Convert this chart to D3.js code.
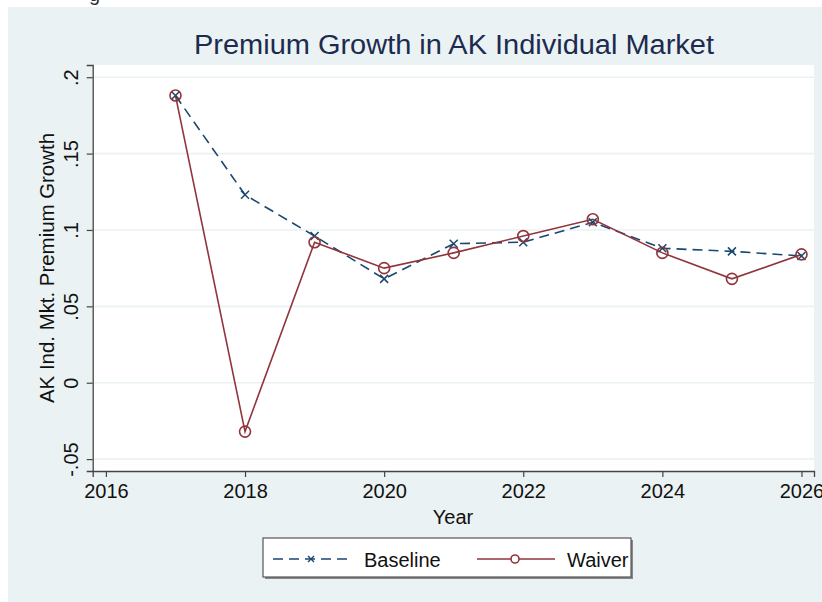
<!DOCTYPE html>
<html>
<head>
<meta charset="utf-8">
<script src="https://cdn.jsdelivr.net/npm/d3@7"></script>
<style>
  body { margin: 0; background: #ffffff; }
  text { font-family: "Liberation Sans", Arial, Helvetica, sans-serif; }
</style>
</head>
<body>
<div id="chart"></div>
<script>
// data
const years = [2017, 2018, 2019, 2020, 2021, 2022, 2023, 2024, 2025, 2026];
const baseline = [0.188, 0.123, 0.096, 0.068, 0.091, 0.092, 0.105, 0.088, 0.086, 0.083];
const waiver = [0.188, -0.032, 0.092, 0.075, 0.085, 0.096, 0.107, 0.085, 0.068, 0.084];
const xTicks = [2016, 2018, 2020, 2022, 2024, 2026];
const yTicks = [-0.05, 0, 0.05, 0.1, 0.15, 0.2];
const yTickLabels = ["-.05", "0", ".05", ".1", ".15", ".2"];

const width = 822, height = 602;
const plot = {left: 92.7, right: 814, top: 65, bottom: 471};

const navy = "#1a476f";
const maroon = "#90353b";
const bg = "#eaf2f3";

const svg = d3.select("#chart")
    .append("svg")
    .attr("width", width)
    .attr("height", height);

// outer panel
svg.append("rect")
    .attr("x", 8).attr("y", 7)
    .attr("width", width - 8).attr("height", height - 7)
    .attr("fill", bg);

// cut off glyph from text above the picture
svg.append("text")
    .attr("x", 89).attr("y", 0.5)
    .style("font-size", "20px")
    .attr("fill", "#333")
    .text("g");

// scales
const x = d3.scaleLinear()
    .domain([2015.81, 2026.18])
    .range([plot.left, plot.right]);

const y = d3.scaleLinear()
    .domain([-0.0578, 0.208])
    .range([plot.bottom, plot.top]);

// plot region
svg.append("rect")
    .attr("x", plot.left).attr("y", plot.top)
    .attr("width", plot.right - plot.left)
    .attr("height", plot.bottom - plot.top)
    .attr("fill", "#ffffff");

// gridlines
svg.append("g")
    .selectAll("line")
    .data(yTicks)
    .enter().append("line")
    .attr("x1", plot.left).attr("x2", plot.right)
    .attr("y1", d => y(d)).attr("y2", d => y(d))
    .attr("stroke", bg)
    .attr("stroke-width", 1.6);

// title
svg.append("text")
    .attr("x", 454).attr("y", 54)
    .attr("text-anchor", "middle")
    .attr("textLength", 520)
    .attr("lengthAdjust", "spacingAndGlyphs")
    .style("font-size", "27px")
    .attr("fill", "#1c2b4f")
    .text("Premium Growth in AK Individual Market");

// x axis
const xAxis = svg.append("g")
    .attr("transform", "translate(0," + plot.bottom + ")")
    .call(d3.axisBottom(x).tickValues(xTicks).tickFormat(d3.format("d")).tickSizeOuter(0).tickSize(6).tickPadding(7));
xAxis.select(".domain").attr("stroke", "#444").attr("stroke-width", 1.3);
xAxis.selectAll(".tick line").attr("stroke", "#444").attr("stroke-width", 1.2);
xAxis.selectAll(".tick text")
    .style("font-size", "20px")
    .attr("fill", "#111");

// y axis
const yAxis = svg.append("g")
    .attr("transform", "translate(" + plot.left + ",0)")
    .call(d3.axisLeft(y).tickValues(yTicks).tickFormat((d, i) => yTickLabels[i]).tickSizeOuter(0).tickSize(6));
yAxis.select(".domain").attr("stroke", "#444").attr("stroke-width", 1.3);
yAxis.selectAll(".tick line").attr("stroke", "#444").attr("stroke-width", 1.2);
yAxis.selectAll(".tick text")
    .attr("x", 0).attr("y", 0).attr("dy", null)
    .attr("transform", "translate(-15,0) rotate(-90)")
    .attr("text-anchor", "middle")
    .style("font-size", "20px")
    .attr("fill", "#111");

// axis titles
svg.append("text")
    .attr("x", 453).attr("y", 524)
    .attr("text-anchor", "middle")
    .style("font-size", "20px")
    .attr("fill", "#111")
    .text("Year");

svg.append("text")
    .attr("transform", "translate(54," + 268 + ") rotate(-90)")
    .attr("text-anchor", "middle")
    .attr("textLength", 270)
    .attr("lengthAdjust", "spacingAndGlyphs")
    .style("font-size", "20px")
    .attr("fill", "#111")
    .text("AK Ind. Mkt. Premium Growth");

// lines
const line = d3.line()
    .x((d, i) => x(years[i]))
    .y(d => y(d));

svg.append("path")
    .datum(baseline)
    .attr("d", line)
    .attr("fill", "none")
    .attr("stroke", navy)
    .attr("stroke-width", 1.6)
    .attr("stroke-dasharray", "10,6");

svg.append("path")
    .datum(waiver)
    .attr("d", line)
    .attr("fill", "none")
    .attr("stroke", maroon)
    .attr("stroke-width", 1.6);

// markers
const xMark = (s) => "M" + (-s) + "," + (-s) + "L" + s + "," + s + "M" + (-s) + "," + s + "L" + s + "," + (-s);

svg.append("g")
    .selectAll("path")
    .data(baseline)
    .enter().append("path")
    .attr("transform", (d, i) => "translate(" + x(years[i]) + "," + y(d) + ")")
    .attr("d", xMark(4))
    .attr("stroke", navy)
    .attr("stroke-width", 1.5);

svg.append("g")
    .selectAll("circle")
    .data(waiver)
    .enter().append("circle")
    .attr("cx", (d, i) => x(years[i]))
    .attr("cy", d => y(d))
    .attr("r", 5.5)
    .attr("fill", "none")
    .attr("stroke", maroon)
    .attr("stroke-width", 1.6);

// legend
const legend = svg.append("g");
legend.append("rect")
    .attr("x", 265).attr("y", 540)
    .attr("width", 368).attr("height", 39)
    .attr("fill", "#888");
legend.append("rect")
    .attr("x", 263).attr("y", 538)
    .attr("width", 368).attr("height", 39)
    .attr("fill", "#ffffff")
    .attr("stroke", "#555")
    .attr("stroke-width", 1.2);

legend.append("line")
    .attr("x1", 273).attr("x2", 352)
    .attr("y1", 559).attr("y2", 559)
    .attr("stroke", navy)
    .attr("stroke-width", 1.6)
    .attr("stroke-dasharray", "10,6");
legend.append("path")
    .attr("transform", "translate(311,559)")
    .attr("d", xMark(3))
    .attr("stroke", navy)
    .attr("stroke-width", 1.4);
legend.append("text")
    .attr("x", 364).attr("y", 567)
    .style("font-size", "20px")
    .attr("fill", "#111")
    .text("Baseline");

legend.append("line")
    .attr("x1", 477).attr("x2", 555)
    .attr("y1", 559).attr("y2", 559)
    .attr("stroke", maroon)
    .attr("stroke-width", 1.6);
legend.append("circle")
    .attr("cx", 515).attr("cy", 559)
    .attr("r", 4)
    .attr("fill", "#ffffff")
    .attr("stroke", maroon)
    .attr("stroke-width", 1.6);
legend.append("text")
    .attr("x", 567).attr("y", 567)
    .style("font-size", "20px")
    .attr("fill", "#111")
    .text("Waiver");
</script>
</body>
</html>
